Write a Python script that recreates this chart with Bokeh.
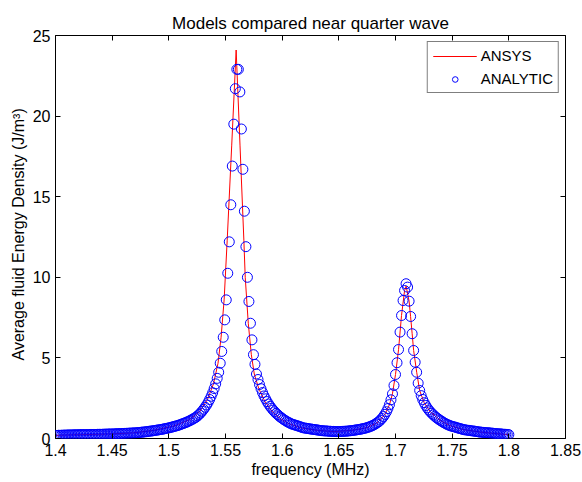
import numpy as np
from bokeh.plotting import figure
from bokeh.models import (LinearAxis, FixedTicker, NumeralTickFormatter, Legend,
                          LegendItem, Range1d, Title, CustomJSTickFormatter)
from bokeh.embed import file_html
from bokeh.resources import INLINE

# ---------------- data ----------------
title_text = "Models compared near quarter wave"
x_label = "frequency (MHz)"
y_label = "Average fluid Energy Density (J/m³)"

x_ticks = [1.4, 1.45, 1.5, 1.55, 1.6, 1.65, 1.7, 1.75, 1.8, 1.85]
y_ticks = [0, 5, 10, 15, 20, 25]

# ANALYTIC: sampled uniformly from 1.40 MHz to 1.80 MHz
analytic_f_start = 1.40
analytic_f_end = 1.80
analytic_energy = [
    0.19, 0.19, 0.20, 0.20, 0.20, 0.21, 0.21, 0.21, 0.22, 0.22, 0.22, 0.22, 0.23,
    0.23, 0.23, 0.23, 0.24, 0.24, 0.24, 0.24, 0.24, 0.24, 0.24, 0.25, 0.25, 0.25,
    0.25, 0.25, 0.26, 0.26, 0.26, 0.26, 0.27, 0.27, 0.27, 0.28, 0.28, 0.28, 0.28, 0.29,
    0.29, 0.30, 0.30, 0.30, 0.31, 0.31, 0.32, 0.32, 0.33, 0.33, 0.34, 0.34, 0.35,
    0.35, 0.36, 0.37, 0.38, 0.39, 0.40, 0.41, 0.42, 0.43, 0.45, 0.46, 0.47, 0.49,
    0.50, 0.52, 0.53, 0.55, 0.56, 0.58, 0.60, 0.62, 0.64,
    0.66, 0.68, 0.71, 0.73, 0.76, 0.78, 0.81, 0.84, 0.88,
    0.91, 0.95, 0.98, 1.02, 1.07, 1.11, 1.16, 1.21, 1.27,
    1.32, 1.40, 1.49, 1.58, 1.69, 1.81, 1.94,
    2.08, 2.24, 2.42, 2.62, 2.84, 3.10, 3.39, 3.73,
    4.11, 4.67, 5.40, 6.28, 7.36, 8.60, 10.25, 12.20, 14.50, 16.90, 19.50, 21.70, 22.90, 22.90,
    21.50, 19.20, 16.70, 14.10, 11.90, 10.00, 8.50, 7.15, 6.12, 5.20, 4.60, 4.00,
    3.66, 3.35, 3.09, 2.85, 2.64, 2.46, 2.29, 2.14, 2.00,
    1.88, 1.76, 1.66, 1.56, 1.48, 1.39, 1.32,
    1.25, 1.18, 1.12, 1.06, 1.01, 0.96, 0.91,
    0.88, 0.85, 0.82, 0.79, 0.76, 0.73, 0.69, 0.66,
    0.65, 0.63, 0.62, 0.60, 0.59, 0.57, 0.56, 0.55, 0.53, 0.52, 0.50,
    0.49, 0.48, 0.47, 0.47, 0.46, 0.45, 0.45, 0.44, 0.44, 0.43, 0.43, 0.43, 0.43, 0.44, 0.44,
    0.45, 0.45, 0.46, 0.47, 0.48, 0.49,
    0.50, 0.52, 0.53, 0.55, 0.56, 0.58, 0.60, 0.62, 0.64, 0.67,
    0.70, 0.73, 0.77, 0.81, 0.86, 0.92, 0.98, 1.05, 1.14, 1.24, 1.36, 1.50, 1.66, 1.86, 2.10, 2.40,
    2.77, 3.29, 3.97, 4.70, 5.52, 6.60, 7.63, 8.56, 9.18, 9.60, 9.39,
    8.52, 7.57, 6.50, 5.46, 4.73, 4.11, 3.43, 2.98,
    2.66, 2.42, 2.22, 2.05, 1.90, 1.77, 1.66, 1.56, 1.47, 1.38, 1.30, 1.23, 1.16, 1.10,
    1.04, 0.98, 0.93, 0.88, 0.84, 0.80,
    0.77, 0.74, 0.72, 0.69, 0.66, 0.63, 0.61, 0.58, 0.55,
    0.54, 0.52, 0.51, 0.50, 0.48, 0.47, 0.46, 0.44, 0.43, 0.41, 0.40,
    0.39, 0.38, 0.37, 0.36, 0.36, 0.35, 0.34, 0.33, 0.32, 0.31, 0.30,
    0.29, 0.29, 0.28, 0.27, 0.26, 0.26, 0.25, 0.24,
]

# ANSYS (red line)
ansys_freq = [
    1.4000, 1.4155, 1.4328, 1.4514, 1.4688, 1.4861, 1.5048, 1.5181, 1.5274, 1.5341,
    1.5394, 1.5434, 1.5461, 1.5488, 1.5515, 1.5555, 1.5594, 1.5628, 1.5662, 1.5674,
    1.5701, 1.5728, 1.5754, 1.5794, 1.5848, 1.5914, 1.5981, 1.6061, 1.6168, 1.6314,
    1.6461, 1.6608, 1.6747, 1.6840, 1.6907, 1.6947, 1.6973, 1.7000, 1.7027, 1.7053,
    1.7080, 1.7094, 1.7120, 1.7133, 1.7147, 1.7160, 1.7187, 1.7213, 1.7253, 1.7307,
    1.7400, 1.7480, 1.7600, 1.7747, 1.7893, 1.8000,
]
ansys_energy = [
    0.19, 0.23, 0.25, 0.29, 0.35, 0.50, 0.78, 1.16, 1.69, 2.42,
    3.39, 4.67, 6.28, 8.60, 12.30, 18.20, 24.10, 18.20, 12.30, 10.00,
    7.15, 5.20, 4.00, 3.09, 2.29, 1.66, 1.25, 0.91, 0.66, 0.50,
    0.43, 0.50, 0.67, 0.98, 1.50, 2.10, 2.77, 3.97, 5.52, 7.63,
    9.18, 9.45, 8.52, 7.57, 6.50, 5.46, 4.11, 2.98, 2.22, 1.66,
    1.10, 0.80, 0.55, 0.40, 0.30, 0.24,
]

analytic_freq = np.linspace(analytic_f_start, analytic_f_end, len(analytic_energy))

# ---------------- figure ----------------
FONT = "Liberation Sans"
FS = "16px"

p = figure(width=582, height=482, output_backend="svg", toolbar_location=None,
           x_range=Range1d(1.4, 1.85), y_range=Range1d(0, 25),
           min_border_left=55, min_border_right=17, min_border_top=35,
           min_border_bottom=44, x_axis_label=x_label)

p.background_fill_color = "white"
p.border_fill_color = "white"
p.outline_line_color = "black"
p.outline_line_width = 1
p.outline_line_alpha = 1.0
p.xgrid.visible = False
p.ygrid.visible = False

p.title.text = title_text
p.title.align = "center"
p.title.text_font = FONT
p.title.text_font_size = "17px"
p.title.text_font_style = "normal"
p.title.text_color = "black"
p.title.standoff = 5


def style_axis(ax, ticks, show_labels):
    ax.ticker = FixedTicker(ticks=ticks)
    ax.major_tick_in = 5
    ax.major_tick_out = 0
    ax.major_tick_line_color = "black"
    ax.major_tick_line_width = 1
    ax.minor_tick_line_color = None
    ax.axis_line_color = None
    if show_labels:
        ax.major_label_text_font = FONT
        ax.major_label_text_font_size = FS
        ax.major_label_text_color = "black"
        ax.axis_label_text_font = FONT
        ax.axis_label_text_font_size = FS
        ax.axis_label_text_font_style = "normal"
        ax.axis_label_text_color = "black"
    else:
        ax.formatter = CustomJSTickFormatter(code="return ''")
        ax.major_label_text_font_size = "1px"
        ax.major_label_standoff = 0


xa = p.xaxis[0]
ya = p.yaxis[0]
style_axis(xa, x_ticks, True)
style_axis(ya, y_ticks, True)
xa.formatter = NumeralTickFormatter(format="0.0[0]")
ya.formatter = NumeralTickFormatter(format="0")
xa.major_label_standoff = 5
xa.axis_label_standoff = 2
ya.major_label_standoff = 5

top_ax = LinearAxis()
style_axis(top_ax, x_ticks, False)
p.add_layout(top_ax, "above")
right_ax = LinearAxis()
style_axis(right_ax, y_ticks, False)
p.add_layout(right_ax, "right")

# y axis label (sits a little above centre, as in the reference)
ylab = Title(text=y_label, align="left", offset=78, standoff=5,
             text_font=FONT, text_font_size=FS, text_font_style="normal",
             text_color="black")
p.add_layout(ylab, "left")

r_line = p.line(ansys_freq, ansys_energy, line_color="#ff0000", line_width=1)
r_circ = p.scatter(analytic_freq, analytic_energy, marker="circle", size=10,
                   fill_color=None, line_color="#0000ff", line_width=1)

legend = Legend(items=[LegendItem(label="ANSYS", renderers=[r_line]),
                       LegendItem(label="ANALYTIC", renderers=[r_circ])],
                location="top_right")
legend.border_line_color = "black"
legend.border_line_width = 1
legend.background_fill_color = "white"
legend.background_fill_alpha = 1.0
legend.label_text_font = FONT
legend.label_text_font_size = "15px"
legend.label_text_color = "black"
legend.glyph_width = 44
legend.glyph_height = 14
legend.label_height = 14
legend.label_standoff = 4
legend.padding = 5
legend.spacing = 6
legend.margin = 6
p.add_layout(legend)

open("out.html", "w").write(file_html(p, INLINE, title=title_text))
